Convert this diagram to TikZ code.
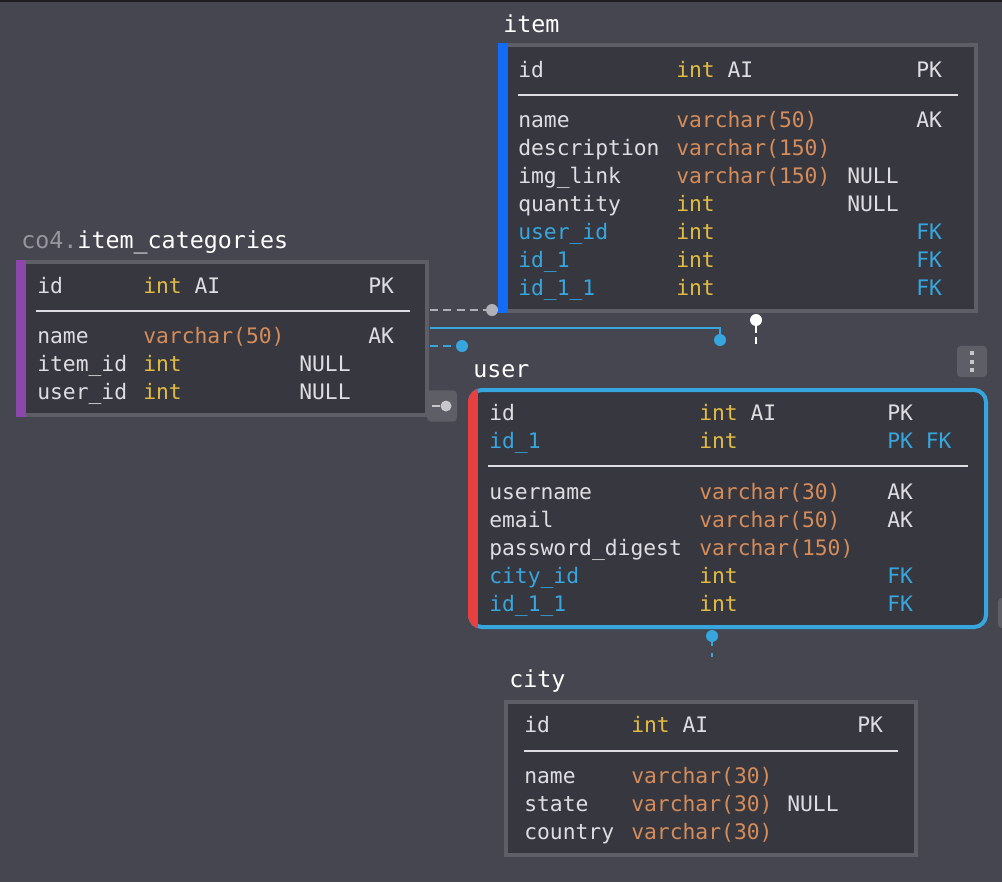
\documentclass[tikz,border=0pt]{standalone}
\usepackage{fontspec}
\setmonofont{DejaVu Sans Mono}
\definecolor{canvas}{RGB}{69,70,79}
\definecolor{tablebg}{RGB}{54,55,63}
\definecolor{frame}{RGB}{93,94,102}
\definecolor{fg}{RGB}{222,222,226}
\definecolor{fk}{RGB}{56,166,222}
\definecolor{tint}{RGB}{226,188,66}
\definecolor{tvar}{RGB}{214,140,90}
\definecolor{schema}{RGB}{150,150,156}
\definecolor{itemblue}{RGB}{18,108,248}
\definecolor{catpurple}{RGB}{140,70,172}
\definecolor{userred}{RGB}{232,64,64}
\definecolor{dotgray}{RGB}{176,176,184}
\definecolor{knob}{RGB}{200,200,204}
\definecolor{topbar}{RGB}{30,30,33}
\newcommand{\tyint}[1]{\textcolor{tint}{#1}}
\newcommand{\tyvar}[1]{\textcolor{tvar}{#1}}

\begin{document}
\begin{tikzpicture}
  [x=0.75pt,y=-0.75pt,
   every node/.style={inner sep=0pt,anchor=base west,text=fg,
     font=\ttfamily\fontsize{16}{16}\selectfont},
   title/.style={text=white,font=\ttfamily\fontsize{17.5}{17.5}\selectfont},
   tablebox/.style={fill=tablebg,draw=frame,line width=3pt},
   sepline/.style={draw=fg,line width=1.5pt},
   dot/.style={circle,anchor=center,minimum size=9pt,fill=#1},
   link/.style={draw=#1,line width=1.5pt},
   dashlink/.style={draw=#1,line width=1.5pt,dash pattern=on 6pt off 4pt},
   button/.style={anchor=center,fill=frame,rounded corners=3pt,
     minimum width=22.5pt,minimum height=23.5pt}]
  \useasboundingbox (0,0) rectangle (1002,882);
  \clip (0,0) rectangle (1002,882);
  \fill[canvas] (0,0) rectangle (1002,882);
  \fill[topbar] (0,0) rectangle (1002,2);

  % item
  \draw[tablebox] (500,45) rectangle (976,311);
  \fill[itemblue] (498,43) rectangle (508,313);
  \draw[sepline] (518,95) -- (958,95);
  \node (item) [title] at (503,32) {item};
  \foreach \y/\nm/\ty/\nl/\ky/\c [count=\i] in
    {69/id/{\tyint{int} AI}/{}/PK/fg,
     119/name/{\tyvar{varchar(50)}}/{}/AK/fg,
     147/description/{\tyvar{varchar(150)}}/{}/{}/fg,
     175/img\_link/{\tyvar{varchar(150)}}/NULL/{}/fg,
     203/quantity/{\tyint{int}}/NULL/{}/fg,
     231/user\_id/{\tyint{int}}/{}/FK/fk,
     259/id\_1/{\tyint{int}}/{}/FK/fk,
     287/id\_1\_1/{\tyint{int}}/{}/FK/fk}
  {
    \node (item-\i) [text=\c] at (518,\y+8) {\nm};
    \node (item-\i-t) at (676,\y+8) {\ty};
    \node (item-\i-z) at (847,\y+8) {\nl};
    \node (item-\i-k) [text=\c] at (916,\y+8) {\ky};
  }

  % item_categories
  \draw[tablebox] (18,262) rectangle (427,415);
  \fill[catpurple] (16,260) rectangle (26,417);
  \draw[sepline] (36,311) -- (410,311);
  \node (cat) [title] at (21,248) {\textcolor{schema}{co4.}item\_categories};
  \foreach \y/\nm/\ty/\nl/\ky [count=\i] in
    {285/id/{\tyint{int} AI}/{}/PK,
     335/name/{\tyvar{varchar(50)}}/{}/AK,
     363/item\_id/{\tyint{int}}/NULL/{},
     391/user\_id/{\tyint{int}}/NULL/{}}
  {
    \node (cat-\i) at (37,\y+8) {\nm};
    \node (cat-\i-t) at (143,\y+8) {\ty};
    \node (cat-\i-z) at (299,\y+8) {\nl};
    \node (cat-\i-k) at (368,\y+8) {\ky};
  }

  % user
  \draw[fill=tablebg,draw=fk,line width=3pt,rounded corners=9pt]
    (470,390) rectangle (986,627);
  \begin{scope}
    \clip[rounded corners=10.5pt] (468,388) rectangle (988,629);
    \fill[userred] (468,388) rectangle (478,629);
  \end{scope}
  \draw[sepline] (488,466) -- (968,466);
  \node (user) [title] at (473,377) {user};
  \foreach \y/\nm/\ty/\ky/\c [count=\i] in
    {412/id/{\tyint{int} AI}/PK/fg,
     440/id\_1/{\tyint{int}}/{PK FK}/fk,
     491/username/{\tyvar{varchar(30)}}/AK/fg,
     519/email/{\tyvar{varchar(50)}}/AK/fg,
     547/password\_digest/{\tyvar{varchar(150)}}/{}/fg,
     575/city\_id/{\tyint{int}}/FK/fk,
     603/id\_1\_1/{\tyint{int}}/FK/fk}
  {
    \node (user-\i) [text=\c] at (489,\y+8) {\nm};
    \node (user-\i-t) at (699,\y+8) {\ty};
    \node (user-\i-k) [text=\c] at (887,\y+8) {\ky};
  }

  % city
  \draw[tablebox] (506,702) rectangle (916,855);
  \draw[sepline] (524,751) -- (898,751);
  \node (city) [title] at (509,687) {city};
  \foreach \y/\nm/\ty/\nl/\ky [count=\i] in
    {724/id/{\tyint{int} AI}/{}/PK,
     775/name/{\tyvar{varchar(30)}}/{}/{},
     803/state/{\tyvar{varchar(30)}}/NULL/{},
     831/country/{\tyvar{varchar(30)}}/{}/{}}
  {
    \node (city-\i) at (524,\y+8) {\nm};
    \node (city-\i-t) at (631,\y+8) {\ty};
    \node (city-\i-z) at (787,\y+8) {\nl};
    \node (city-\i-k) at (857,\y+8) {\ky};
  }

  % links
  \coordinate (cat-e1) at (430,310);
  \coordinate (cat-e2) at (430,328);
  \coordinate (cat-e3) at (430,346);
  \node (item-fk) [dot=dotgray] at (492,310) {};
  \node (user-fk1) [dot=fk] at (720,340) {};
  \node (user-fk2) [dot=fk] at (462,346) {};
  \draw[dashlink=dotgray] (cat-e1) -- (item-fk);
  \draw[link=fk] (cat-e2) -| (user-fk1);
  \draw[dashlink=fk] (cat-e3) -- (user-fk2);
  \node (item-ref) [dot=white] at (756,320) {};
  \coordinate (item-ref-end) at (756,346);
  \draw[dashlink=white,dash pattern=on 5pt off 3pt] (item-ref) -- (item-ref-end);
  \node (city-ref) [dot=fk] at (712,636) {};
  \coordinate (city-ref-end) at (712,657);
  \draw[dashlink=fk,dash pattern=on 3pt off 5.25pt] (city-ref) -- (city-ref-end);

  % buttons
  \node (cat-btn) [button] at (442,406) {};
  \node (cat-knob) [dot=knob,minimum size=8.25pt] at (446,406) {};
  \coordinate (cat-knob-end) at (432,406);
  \draw[link=knob] (cat-knob-end) -- (cat-knob);
  \node (menu) [button] at (972,361.5) {};
  \foreach \y in {353,361.5,370}
    \fill[knob] (970,\y-2) rectangle (974,\y+2);
  \fill[frame,rounded corners=3pt] (998,598) rectangle (1010,628);
\end{tikzpicture}
\end{document}
